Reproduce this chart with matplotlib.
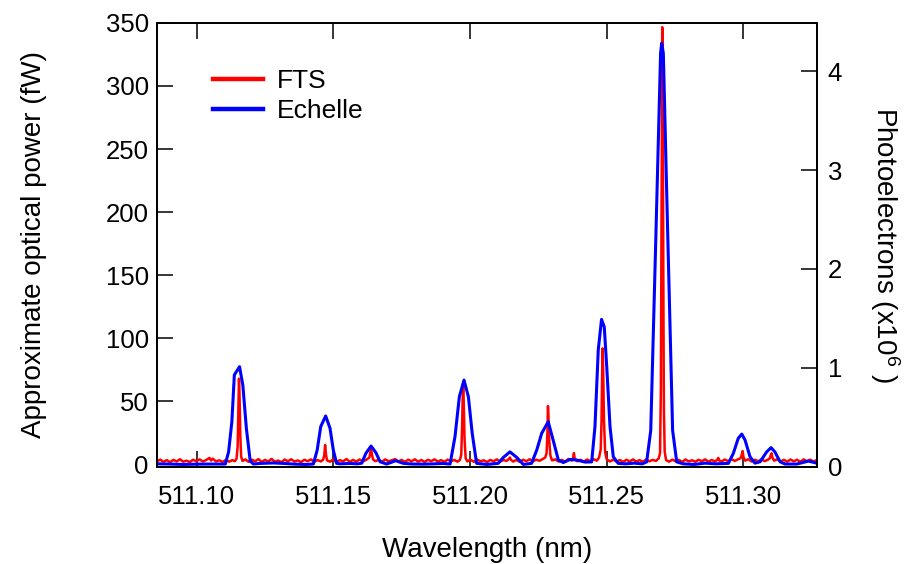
import matplotlib
matplotlib.use("Agg")
import matplotlib.pyplot as plt
from matplotlib.lines import Line2D

plt.rcParams['font.family'] = ['Liberation Sans', 'DejaVu Sans']
plt.rcParams['mathtext.fontset'] = 'custom'
plt.rcParams['mathtext.rm'] = 'Liberation Sans'
plt.rcParams['mathtext.it'] = 'Liberation Sans:italic'
plt.rcParams['mathtext.bf'] = 'Liberation Sans:bold'

# FTS spectrum: wavelength (nm) and approximate optical power (fW)
fts_wavelength = [
    511.0855, 511.0867, 511.0879, 511.0891, 511.0903, 511.0915, 511.0927, 511.0939,
    511.0951, 511.0963, 511.0975, 511.0987, 511.0999, 511.1011, 511.1023, 511.1035,
    511.1047, 511.1053, 511.1059, 511.1071, 511.1083, 511.1095, 511.1107, 511.1119,
    511.1131, 511.1140,
    511.1146, 511.1150, 511.1153, 511.1155, 511.1157, 511.1160, 511.1163, 511.1168,
    511.1178, 511.1190, 511.1202, 511.1214, 511.1226, 511.1238, 511.1250, 511.1262,
    511.1274, 511.1286, 511.1298, 511.1310, 511.1322, 511.1334, 511.1346, 511.1358,
    511.1370, 511.1382, 511.1394, 511.1406, 511.1418, 511.1430, 511.1442, 511.1454,
    511.1463,
    511.1467, 511.1470, 511.1473, 511.1477, 511.1488, 511.1500, 511.1512, 511.1524,
    511.1536, 511.1548, 511.1560, 511.1572, 511.1584, 511.1596, 511.1608, 511.1620,
    511.1632, 511.1636, 511.1638, 511.1641, 511.1645, 511.1654, 511.1666, 511.1678,
    511.1690, 511.1702, 511.1714, 511.1726, 511.1738, 511.1750, 511.1762, 511.1774,
    511.1786, 511.1798, 511.1810, 511.1822, 511.1834, 511.1846, 511.1858, 511.1870,
    511.1882, 511.1894, 511.1906, 511.1918, 511.1930, 511.1942, 511.1954, 511.1963,
    511.1968, 511.1971, 511.1973, 511.1975, 511.1977, 511.1980, 511.1984, 511.1990,
    511.2002, 511.2014, 511.2026, 511.2038, 511.2050, 511.2062, 511.2074, 511.2086,
    511.2098, 511.2110, 511.2122, 511.2134, 511.2143, 511.2146, 511.2149, 511.2158,
    511.2170, 511.2182, 511.2194, 511.2206, 511.2218, 511.2230, 511.2242, 511.2254,
    511.2266, 511.2275,
    511.2280, 511.2283, 511.2285, 511.2287, 511.2290, 511.2294, 511.2300, 511.2312,
    511.2324, 511.2336, 511.2348, 511.2360, 511.2372, 511.2377, 511.2380, 511.2383,
    511.2392, 511.2404, 511.2416, 511.2428, 511.2440, 511.2452, 511.2464,
    511.2472, 511.2478, 511.2481, 511.2483, 511.2485, 511.2487, 511.2490, 511.2494,
    511.2500, 511.2512, 511.2524, 511.2536, 511.2548, 511.2560, 511.2572, 511.2584,
    511.2596, 511.2608, 511.2620, 511.2632, 511.2644, 511.2656, 511.2668, 511.2680,
    511.2690,
    511.2695, 511.2698, 511.2700, 511.2702, 511.2703, 511.2705, 511.2707, 511.2709,
    511.2712, 511.2717, 511.2728, 511.2740, 511.2752, 511.2764, 511.2776, 511.2788,
    511.2800, 511.2812, 511.2824, 511.2836, 511.2848, 511.2860, 511.2872, 511.2884,
    511.2896, 511.2905, 511.2908, 511.2911, 511.2920, 511.2932, 511.2944, 511.2956,
    511.2968, 511.2980, 511.2990, 511.2994, 511.2997, 511.3000, 511.3006, 511.3018,
    511.3030, 511.3042, 511.3054, 511.3066, 511.3078, 511.3090, 511.3097, 511.3100,
    511.3103, 511.3106, 511.3112, 511.3124, 511.3136, 511.3148, 511.3160, 511.3172,
    511.3184, 511.3196, 511.3208, 511.3220, 511.3232, 511.3244, 511.3256, 511.3268,
]
fts_power = [
    2.5, 3.8, 2.1, 3.4, 1.8, 3.6, 2.4, 4.1,
    2.2, 3.0, 1.9, 3.7, 2.6, 4.0, 2.3, 3.5,
    5.2, 3.1, 4.6, 2.4, 3.3, 2.0, 3.6, 2.2,
    3.4, 2.6,
    4.5, 14.0, 48.0, 68.0, 55.0, 22.0, 6.0, 2.8,
    4.0, 2.1, 3.8, 2.5, 4.2, 2.0, 3.6, 2.4,
    4.4, 2.2, 3.1, 1.8, 3.9, 2.5, 4.1, 2.3,
    3.2, 1.9, 3.7, 2.6, 4.0, 2.1, 3.5, 2.4,
    3.8,
    7.5, 15.4, 8.0, 3.2, 2.2, 3.9, 2.0, 3.4,
    2.5, 4.3, 2.1, 3.6, 2.3, 3.9, 2.4, 3.6,
    5.5, 10.5, 12.0, 8.5, 4.0, 2.6, 3.7, 2.2,
    4.0, 2.5, 3.3, 4.2, 2.3, 3.6, 2.0, 3.8,
    2.4, 4.1, 2.2, 3.5, 1.9, 3.7, 2.6, 4.0,
    2.3, 3.4, 2.1, 3.8, 2.5, 3.6, 2.2, 3.5,
    8.0, 30.0, 52.0, 61.6, 50.0, 20.0, 5.0, 2.4,
    3.7, 2.1, 3.9, 2.4, 3.3, 1.9, 3.6, 2.5,
    4.0, 2.3, 3.5, 2.8, 4.6, 5.5, 3.8, 2.3,
    3.6, 2.0, 3.7, 2.6, 4.1, 2.4, 3.8, 2.9,
    4.3, 5.5,
    9.0, 25.0, 46.3, 38.0, 18.0, 7.0, 3.2, 4.0,
    2.3, 3.6, 2.1, 4.4, 3.0, 5.0, 9.0, 4.2,
    2.5, 3.7, 2.2, 3.9, 2.6, 4.1, 3.0,
    5.5, 12.0, 35.0, 70.0, 92.0, 75.0, 35.0, 10.0,
    4.0, 2.4, 3.8, 2.2, 3.5, 2.0, 3.7, 2.4,
    4.0, 2.3, 3.4, 2.1, 3.9, 2.5, 3.6, 2.8,
    4.8,
    9.0, 60.0, 180.0, 320.0, 346.6, 300.0, 150.0, 45.0,
    10.0, 3.5, 2.2, 3.8, 2.5, 3.6, 2.0, 3.9,
    2.4, 3.3, 2.1, 3.7, 2.6, 4.0, 2.2, 3.5,
    2.4, 3.8, 5.2, 3.1, 2.4, 3.9, 2.6, 4.2,
    2.8, 4.0, 5.0, 8.0, 10.6, 6.0, 3.0, 4.1,
    2.3, 3.7, 2.5, 4.0, 2.6, 3.8, 5.0, 7.5,
    8.8, 5.5, 3.0, 4.0, 2.4, 3.6, 2.2, 3.9,
    2.5, 3.7, 2.1, 4.0, 2.6, 3.8, 2.3, 3.5,
]

# Echelle spectrum: wavelength (nm) and photoelectrons (x10^6)
echelle_wavelength = [
    511.0855, 511.0900, 511.0950, 511.1000, 511.1060, 511.1105, 511.1117, 511.1129,
    511.1138, 511.1157, 511.1169, 511.1182, 511.1196, 511.1208, 511.1230, 511.1280,
    511.1320, 511.1360, 511.1400, 511.1427, 511.1441, 511.1454, 511.1472, 511.1488,
    511.1500, 511.1512, 511.1525, 511.1560, 511.1590, 511.1604, 511.1619, 511.1638,
    511.1656, 511.1671, 511.1695, 511.1728, 511.1756, 511.1790, 511.1830, 511.1870,
    511.1900, 511.1927, 511.1945, 511.1961, 511.1978, 511.1994, 511.2008, 511.2024,
    511.2061, 511.2103, 511.2122, 511.2146, 511.2171, 511.2195, 511.2225, 511.2244,
    511.2262, 511.2286, 511.2304, 511.2323, 511.2341, 511.2366, 511.2390, 511.2421,
    511.2445, 511.2457, 511.2469, 511.2481, 511.2491, 511.2500, 511.2512, 511.2524,
    511.2542, 511.2570, 511.2600, 511.2630, 511.2646, 511.2661, 511.2680, 511.2697,
    511.2701, 511.2707, 511.2723, 511.2741, 511.2756, 511.2780, 511.2820, 511.2860,
    511.2900, 511.2945, 511.2963, 511.2981, 511.2994, 511.3006, 511.3024, 511.3042,
    511.3061, 511.3085, 511.3101, 511.3115, 511.3134, 511.3152, 511.3195, 511.3238,
    511.3268,
]
echelle_photoelectrons = [
    0.029, 0.027, 0.023, 0.026, 0.027, 0.027, 0.150, 0.457,
    0.928, 1.011, 0.826, 0.388, 0.057, 0.027, 0.033, 0.038,
    0.033, 0.026, 0.023, 0.027, 0.168, 0.406, 0.513, 0.388,
    0.168, 0.034, 0.029, 0.033, 0.029, 0.036, 0.135, 0.209,
    0.141, 0.050, 0.027, 0.061, 0.034, 0.027, 0.026, 0.029,
    0.033, 0.027, 0.303, 0.708, 0.876, 0.708, 0.337, 0.034,
    0.023, 0.034, 0.094, 0.150, 0.094, 0.023, 0.034, 0.168,
    0.337, 0.455, 0.269, 0.068, 0.042, 0.074, 0.068, 0.047,
    0.049, 0.406, 1.180, 1.490, 1.413, 1.011, 0.406, 0.100,
    0.034, 0.029, 0.036, 0.029, 0.049, 0.367, 2.357, 4.181,
    4.283, 4.181, 2.357, 0.367, 0.049, 0.029, 0.023, 0.036,
    0.029, 0.034, 0.135, 0.287, 0.330, 0.269, 0.101, 0.036,
    0.050, 0.150, 0.193, 0.150, 0.050, 0.027, 0.027, 0.057,
    0.036,
]

x_ticks = [511.10, 511.15, 511.20, 511.25, 511.30]
x_tick_labels = ["511.10", "511.15", "511.20", "511.25", "511.30"]
power_ticks = [0, 50, 100, 150, 200, 250, 300, 350]
electron_ticks = [0, 1, 2, 3, 4]

fig = plt.figure(figsize=(9.11, 5.64), dpi=100)
ax = fig.add_axes([0.1723, 0.1725, 0.7242, 0.7873])
ax2 = ax.twinx()

ax.plot(fts_wavelength, fts_power, color='#ff0000', lw=1.8, zorder=3)
ax2.plot(echelle_wavelength, echelle_photoelectrons, color='#0000ff', lw=2.2, zorder=2)

ax.set_xlim(511.0855, 511.3268)
ax.set_ylim(-1.8, 350.2)
ax2.set_ylim(0.0, 4.49)

ax.set_xticks(x_ticks)
ax.set_xticklabels(x_tick_labels)
ax.set_yticks(power_ticks)
ax2.set_yticks(electron_ticks)

for a in (ax, ax2):
    for s in a.spines.values():
        s.set_linewidth(1.3)
        s.set_color('black')

ax.tick_params(axis='x', which='both', direction='in', length=11.5, width=1.1,
               top=True, bottom=True, labelsize=18.5, pad=13)
ax.tick_params(axis='y', direction='in', length=11.5, width=1.1, right=False,
               labelsize=18.5, pad=6)
ax2.tick_params(axis='y', direction='in', length=11.5, width=1.1,
                labelsize=18.5, pad=8)

ax.set_xlabel("Wavelength (nm)", fontsize=20)
ax.set_ylabel("Approximate optical power (fW)", fontsize=20)
ax.yaxis.set_label_coords(-0.167, 0.5)
ax2.set_ylabel(r"Photoelectrons (x10$^{6}$ )", fontsize=20, rotation=270, va='bottom')
ax2.yaxis.set_label_coords(1.078, 0.5)
ax.xaxis.set_label_coords(0.5, -0.158)

handles = [Line2D([], [], color='#ff0000', lw=3.2),
           Line2D([], [], color='#0000ff', lw=3.2)]
ax2.legend(handles, ["FTS", "Echelle"], loc='upper left', bbox_to_anchor=(0.085, 0.896),
           frameon=False, fontsize=19, handlelength=1.9, handletextpad=0.5,
           labelspacing=0.25, borderpad=0, borderaxespad=0)

fig.savefig("out.png", dpi=100)
